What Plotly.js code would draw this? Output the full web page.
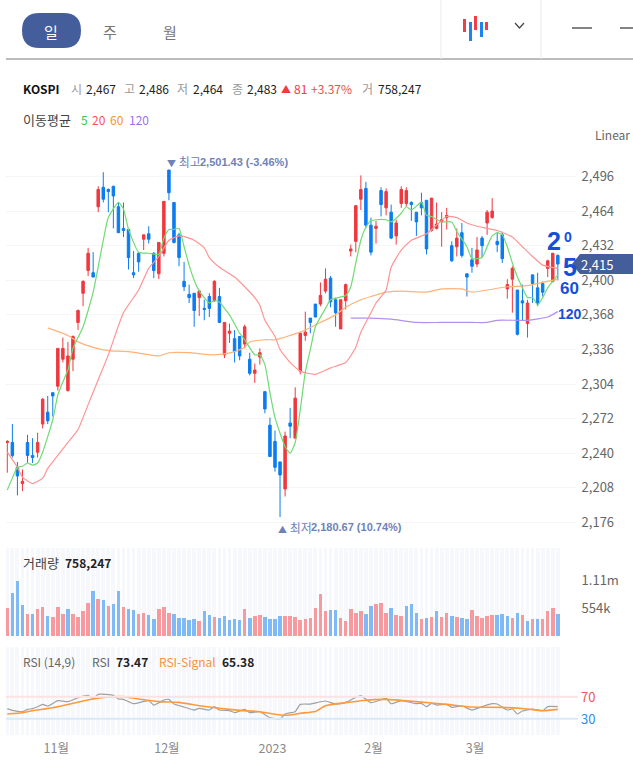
<!DOCTYPE html>
<html><head><meta charset="utf-8">
<script src="https://cdn.plot.ly/plotly-3.0.1.min.js"></script>
<style>html,body{margin:0;padding:0;background:#fff;overflow:hidden}#c{width:633px;height:766px}</style>
</head><body><div id="c"></div>
<script>
const open=[2250,2250,2227,2212,2250,2238,2241,2267,2278,2296,2302,2327,2298,2327,2361,2388,2409,2407,2468,2486,2484,2487,2468,2448,2447,2407,2425,2438,2443,2425,2406,2425,2502,2472,2442,2399,2387,2388,2384,2374,2385,2381,2385,2331,2351,2346,2348,2341,2327,2314,2329,2297,2266,2251,2232,2207,2268,2254,2316,2349,2365,2378,2378,2390,2402,2382,2355,2381,2427,2436,2475,2485,2451,2448,2483,2467,2463,2441,2471,2471,2472,2463,2472,2474,2446,2448,2454,2458,2432,2431,2444,2406,2419,2415,2439,2453,2458,2436,2442,2392,2401,2391,2381,2360,2405,2393,2397,2411,2399,2423];
const high=[2252,2267,2232,2225,2257,2254,2259,2291,2293,2296,2337,2347,2343,2349,2373,2400,2430,2426,2487,2500,2485,2487,2472,2472,2447,2427,2426,2442,2450,2426,2435,2473,2502,2472,2444,2417,2396,2388,2391,2382,2388,2400,2393,2361,2360,2354,2348,2359,2333,2323,2337,2297,2273,2261,2232,2260,2282,2301,2352,2371,2365,2378,2398,2411,2404,2384,2382,2397,2433,2469,2497,2491,2458,2455,2486,2485,2470,2456,2487,2486,2473,2463,2481,2474,2476,2472,2463,2467,2436,2448,2453,2406,2430,2440,2441,2465,2476,2444,2445,2401,2413,2391,2396,2382,2405,2407,2399,2419,2425,2424];
const low=[2222,2236,2201,2205,2231,2231,2236,2263,2267,2274,2298,2324,2297,2316,2354,2376,2404,2403,2463,2472,2463,2448,2444,2440,2410,2402,2408,2428,2434,2402,2401,2422,2474,2434,2413,2390,2379,2357,2367,2363,2366,2380,2361,2328,2342,2324,2326,2337,2312,2305,2322,2277,2237,2223,2181,2200,2254,2254,2313,2344,2351,2366,2376,2388,2375,2357,2355,2373,2422,2426,2465,2448,2423,2434,2459,2460,2438,2433,2467,2468,2455,2441,2460,2424,2445,2447,2431,2447,2417,2422,2421,2385,2407,2412,2421,2442,2457,2426,2416,2383,2370,2349,2363,2347,2379,2376,2385,2403,2398,2400];
const close=[2251,2238,2219,2214,2238,2236,2250,2290,2270,2293,2337,2337,2330,2348,2372,2399,2425,2403,2484,2475,2482,2478,2444,2446,2421,2405,2417,2442,2438,2409,2435,2473,2481,2435,2421,2394,2384,2372,2390,2373,2374,2399,2361,2361,2353,2334,2330,2357,2314,2317,2333,2281,2237,2227,2220,2256,2265,2291,2351,2352,2361,2366,2386,2401,2380,2370,2382,2396,2429,2469,2484,2451,2426,2450,2470,2482,2439,2453,2484,2483,2470,2454,2467,2429,2476,2452,2456,2460,2418,2439,2423,2403,2413,2428,2432,2463,2464,2433,2420,2396,2411,2350,2379,2379,2397,2379,2389,2418,2425,2415];
const volume=[560,867,1094,627,434,447,534,580,400,380,580,434,534,434,387,494,667,894,734,714,600,647,894,580,534,514,447,467,427,334,534,580,467,447,360,360,320,334,294,494,427,387,360,400,314,334,314,534,360,400,427,387,334,334,400,400,400,380,314,334,360,560,847,494,514,514,360,294,534,467,494,447,600,647,667,467,560,427,400,600,647,467,334,360,387,494,387,467,400,387,360,334,514,400,360,400,427,427,447,400,360,467,427,294,334,334,334,494,560,447];
const volumeUp=[1,0,0,0,1,0,1,1,0,1,1,1,0,1,1,1,1,0,1,0,1,0,0,1,0,0,1,1,0,0,1,1,1,0,0,0,0,0,1,0,0,1,0,0,0,0,0,1,0,1,1,0,0,0,0,1,1,1,1,1,1,1,1,1,0,0,1,1,1,1,1,0,0,1,1,1,0,1,1,0,0,0,1,0,1,0,1,1,0,1,0,0,1,1,1,1,1,0,0,0,1,0,1,0,1,0,1,1,1,0];

const ma5X=[0,1,2,3,4,5,6,7,9,10,11,12,13,15,17,19,20,22,23,24,26,28,30,31,32,33,34,35,36,37,38,39,40,41,42,43,44,46,47,49,50,51,52,53,55,56,57,58,59,60,61,63,64,67,68,69,70,71,72,73,75,76,78,79,80,82,83,84,86,88,89,91,92,94,95,96,97,98,99,100,101,102,103,104,105,106,107,109];
const ma5=[2206,2217,2227,2228,2231,2229,2231,2241,2271,2294,2306,2317,2337,2357,2389,2437,2458,2472,2466,2447,2426,2425,2424,2439,2447,2447,2448,2431,2414,2400,2390,2384,2379,2381,2380,2374,2368,2351,2345,2331,2331,2322,2296,2273,2246,2240,2250,2280,2315,2336,2357,2374,2382,2386,2394,2416,2437,2449,2455,2456,2456,2454,2462,2468,2465,2472,2460,2459,2454,2454,2445,2431,2420,2421,2431,2441,2444,2442,2431,2416,2403,2393,2384,2384,2377,2384,2393,2405];
const ma20X=[0,2,3,5,7,8,10,12,14,16,18,20,23,26,28,30,32,34,36,37,39,40,42,45,47,49,50,51,53,54,56,58,61,64,67,69,70,72,73,75,76,78,80,83,85,87,89,91,93,95,97,100,102,104,106,109];
const ma20=[2241,2227,2218,2212,2217,2226,2238,2250,2262,2285,2308,2331,2370,2391,2411,2422,2437,2441,2439,2437,2430,2421,2412,2403,2394,2384,2377,2363,2348,2336,2324,2316,2313,2319,2324,2338,2352,2370,2379,2391,2412,2428,2437,2443,2451,2459,2458,2453,2450,2448,2446,2440,2431,2422,2414,2411];
const ma60X=[8,12,14,17,20,24,27,30,32,36,40,43,45,47,48,51,53,56,58,59,62,65,67,70,72,75,78,83,86,90,92,95,99,103,106,109];
const ma60=[2356,2349,2343,2338,2335,2334,2332,2330,2333,2333,2331,2332,2334,2338,2343,2345,2345,2349,2352,2354,2361,2368,2375,2382,2385,2389,2390,2389,2392,2392,2389,2391,2394,2395,2398,2401];
const ma120X=[68,70,72,76,81,86,92,95,97,103,107,109];
const ma120=[2365,2365,2365,2364,2361,2361,2361,2361,2363,2363,2366,2371];

const rsiX=[0,1,3,4,5,6,7,8,10,12,14,16,17,18,21,22,23,25,28,29,31,32,33,35,37,38,40,41,42,44,45,47,48,50,52,54,55,57,58,60,63,65,67,69,70,72,75,76,78,81,82,83,84,85,87,88,90,92,94,96,97,99,100,101,102,104,106,107,109];
const rsi=[48.3,45.2,42.8,47,48.3,51.9,56.1,53.1,62.8,61,68.3,72.5,67,74.3,72.5,65.8,65.2,57.3,62.8,54.9,64,65.2,56.7,51.3,45.8,48.9,45.8,51.9,45.8,44.6,41,47,41,42.8,31.9,29.5,38.6,42.8,56.1,56.7,62.2,56.7,59.8,68.9,71.9,59.2,67,57.3,62.8,57.3,58,51.9,58,54.9,56.1,50.7,53.1,45.8,51.9,57.3,56.7,45.8,47.6,38.6,44,47.6,44.6,51.9,51.9];
const signalX=[0,3,5,9,13,17,20,23,26,30,34,38,42,46,50,54,56,58,61,63,67,70,75,81,87,92,98,103,106,109];
const signal=[38.6,41,44.6,50.1,58,65.8,69.5,70.1,65.8,61,59.8,53.7,48.9,45.2,42.8,36.7,36.7,39.8,43,53.7,59.2,62.8,65.2,61,56.1,51.3,50.7,47.6,44.6,47];

const priceTicks=[2176,2208,2240,2272,2304,2336,2368,2400,2432,2464,2496];
const volumeTickVals=[554,1110];
const volumeTickText=['554k','1.11m'];
const monthTickVals=[9.7,31.6,52.5,72.5,92.6];
const monthTickText=['11월','12월','2023','2월','3월'];

const W=633,H=766;
const px=x=>x/W, py=y=>1-y/H;
const FONT='"Noto Sans CJK KR","Noto Sans",sans-serif';
const RED='#f0383f', BLUE='#0b7cf0';
const idx=open.map((_,i)=>i);
const VOL_TOP=1760, RSI_MIN=0.4, RSI_MAX=160.4;

const line=(x,y,color,width,yaxis)=>({type:'scatter',mode:'lines',x,y,yaxis:yaxis||'y',hoverinfo:'skip',
  line:{color,width,shape:'spline',smoothing:0.5},showlegend:false});

const traces=[
 {type:'bar',x:idx,y:idx.map(()=>VOL_TOP),yaxis:'y2',width:0.76,marker:{color:'#f6f8fc',line:{width:0}},hoverinfo:'skip',showlegend:false},
 {type:'bar',x:idx,y:volume,yaxis:'y2',width:0.7,marker:{color:volumeUp.map(u=>u?'#f69a9f':'#7fbaf6'),line:{width:0}},hoverinfo:'skip',showlegend:false},
 {type:'bar',x:idx,y:idx.map(()=>RSI_MAX-RSI_MIN),base:RSI_MIN,yaxis:'y3',width:0.76,marker:{color:'#f6f8fc',line:{width:0}},hoverinfo:'skip',showlegend:false},
 {type:'candlestick',x:idx,open,high,low,close,yaxis:'y',hoverinfo:'skip',showlegend:false,whiskerwidth:0,
  increasing:{line:{color:RED,width:1},fillcolor:RED},decreasing:{line:{color:BLUE,width:1},fillcolor:BLUE}},
 line(ma120X,ma120,'#b48ef2',1.2),
 line(ma60X,ma60,'#ffb27a',1.2),
 line(ma20X,ma20,'#ff9494',1.2),
 line(ma5X,ma5,'#6fdb73',1.2),
 line(rsiX,rsi,'#a0a0a0',1.2,'y3'),
 line(signalX,signal,'#ff9a3c',1.6,'y3')
];

const txt=(x,y,text,size,color,extra)=>Object.assign({xref:'paper',yref:'paper',x:px(x),y:py(y),text,showarrow:false,xanchor:'left',yanchor:'middle',
  font:{family:FONT,size,color},borderpad:0},extra||{});
const B=s=>'<b>'+s+'</b>';
const HAND='"Liberation Sans"', INK='#1550d8';
const hand=(x,y,text,size)=>txt(x,y,B(text),size,INK,{font:{family:HAND,size,color:INK}});
const MARK_FONT={family:FONT,size:12,color:'#6f82b8'};
const VALUE_FONT={family:HAND,size:11,color:'#6f82b8'};

const annotations=[
 txt(51,31,'일',15,'#ffffff',{xanchor:'center'}),
 txt(110,31,'주',15,'#777777',{xanchor:'center'}),
 txt(170,31,'월',15,'#777777',{xanchor:'center'}),
 txt(22,89,B('KOSPI'),12,'#111111'),
 txt(70,89,'시',12,'#999999'),txt(85,89,'2,467',12,'#222222'),
 txt(123,89,'고',12,'#999999'),txt(138,89,'2,486',12,'#222222'),
 txt(176,89,'저',12,'#999999'),txt(192,89,'2,464',12,'#222222'),
 txt(231,89,'종',12,'#999999'),txt(246,89,'2,483',12,'#222222'),
 txt(280,89,'▲',10,'#ee3b3b'),txt(293,89,'81',12,'#ee3b3b'),txt(310,89,'+3.37%',12,'#f24c4c'),
 txt(361,89,'거',12,'#999999'),txt(377,89,'758,247',12,'#222222'),
 txt(22,119,'이동평균',13,'#444444'),
 txt(80,119,'5',12,'#3cc43c'),txt(91,119,'20',12,'#f2555a'),txt(109,119,'60',12,'#f9913c'),txt(128,119,'120',12,'#a06cf0'),
 txt(594,134,'Linear',12,'#666666'),
 {xref:'x',yref:'y',x:32,y:2502,yshift:8,xshift:-4,xanchor:'left',yanchor:'middle',showarrow:false,
  text:'<span style="font-size:9px">▼</span> 최고',font:MARK_FONT},
 {xref:'x',yref:'y',x:32,y:2502,yshift:8,xshift:29,xanchor:'left',yanchor:'middle',showarrow:false,
  text:B('2,501.43 (-3.46%)'),font:VALUE_FONT},
 {xref:'x',yref:'y',x:54,y:2181,yshift:-10,xshift:-4,xanchor:'left',yanchor:'middle',showarrow:false,
  text:'<span style="font-size:9px">▲</span> 최저',font:MARK_FONT},
 {xref:'x',yref:'y',x:54,y:2181,yshift:-10,xshift:29,xanchor:'left',yanchor:'middle',showarrow:false,
  text:B('2,180.67 (10.74%)'),font:VALUE_FONT},
 {xref:'paper',yref:'y',x:px(579),y:2415,xanchor:'left',yanchor:'middle',showarrow:false,text:'2,415',font:{family:FONT,size:13,color:'#ffffff'}},
 txt(22,562,'거래량',13,'#444444'),txt(64,562,B('758,247'),12,'#222222'),
 txt(22,661,'RSI (14,9)',12,'#666666'),txt(91,661,'RSI',12,'#666666'),txt(115,661,B('73.47'),12,'#222222'),
 txt(158,661,'RSI-Signal',12,'#f9913c'),txt(221,661,B('65.38'),12,'#222222'),
 {xref:'paper',yref:'y3',x:px(579),y:70,xanchor:'left',yanchor:'middle',showarrow:false,text:'70',font:{family:FONT,size:13,color:'#e85a5a'}},
 {xref:'paper',yref:'y3',x:px(579),y:30,xanchor:'left',yanchor:'middle',showarrow:false,text:'30',font:{family:FONT,size:13,color:'#2f8eea'}},
 hand(546,241,'2',25),
 hand(563,237,'0',14),
 hand(562,267,'5',25),
 hand(559,288,'60',17),
 hand(557,314,'120',14)
];

const rect=(x0,y0,x1,y1,color)=>({type:'rect',xref:'paper',yref:'paper',x0:px(x0),x1:px(x1),y0:py(y0),y1:py(y1),fillcolor:color,line:{width:0},layer:'above'});
const seg=(x0,y0,x1,y1,color,w)=>({type:'line',xref:'paper',yref:'paper',x0:px(x0),x1:px(x1),y0:py(y0),y1:py(y1),line:{color,width:w||1}});
const poly=(pts,color,layer)=>({type:'path',xref:'paper',yref:'paper',path:pts,fillcolor:color,line:{width:0},layer:layer||'above'});
const P=(x,y)=>px(x).toFixed(5)+','+py(y).toFixed(5);
const pill='M'+P(39.5,13)+' L'+P(63.5,13)+' Q'+P(81,13)+' '+P(81,30.5)+' Q'+P(81,48)+' '+P(63.5,48)+' L'+P(39.5,48)+' Q'+P(22,48)+' '+P(22,30.5)+' Q'+P(22,13)+' '+P(39.5,13)+' Z';
const tag='M'+P(572,264)+' L'+P(580,254)+' L'+P(633,254)+' L'+P(633,274)+' L'+P(580,274)+' Z';

const shapes=[
 poly(pill,'#445e9b','below'),
 poly(tag,'#445e9b','above'),
 seg(6,59,633,59,'#77797d',1),
 seg(441,0,441,59,'#e9ebf0',1),seg(541,0,541,59,'#e9ebf0',1),
 rect(463,19,466,32,'#ee4048'),rect(469,22,472,41,'#1c86f0'),rect(474,16,477,30,'#ee4048'),rect(480,22,483,37,'#1c86f0'),rect(485,22,488,30,'#ee4048'),
 {type:'path',xref:'paper',yref:'paper',path:'M'+P(515,23)+' L'+P(519.5,28)+' L'+P(524,23),line:{color:'#444444',width:1.2}},
 seg(572,28,592,28,'#333333',1.2),seg(620,28,633,28,'#333333',1.2),
 {type:'line',xref:'paper',yref:'y3',x0:px(6),x1:px(578),y0:70,y1:70,line:{color:'#fbe2e3',width:2},layer:'above'},
 {type:'line',xref:'paper',yref:'y3',x0:px(6),x1:px(578),y0:30,y1:30,line:{color:'#d9e9fa',width:2},layer:'above'}
];

const layout={
 width:W,height:H,margin:{l:0,r:0,t:0,b:0,pad:0},paper_bgcolor:'#ffffff',plot_bgcolor:'rgba(0,0,0,0)',
 showlegend:false,barmode:'overlay',bargap:0,dragmode:false,hovermode:false,
 font:{family:FONT,size:13,color:'#666666'},
 xaxis:{domain:[px(6),px(576)],range:[-0.26,112.6],anchor:'y3',showgrid:false,zeroline:false,showline:false,
   tickmode:'array',tickvals:monthTickVals,ticktext:monthTickText,ticks:'outside',ticklen:2,tickcolor:'rgba(0,0,0,0)',
   tickfont:{family:FONT,size:12.5,color:'#8a8a8a'},rangeslider:{visible:false}},
 yaxis:{domain:[py(535),py(150)],range:[2164.4,2520.5],side:'right',anchor:'x',tickmode:'array',tickvals:priceTicks,
   tickformat:',d',showgrid:true,gridcolor:'#f5f5f5',gridwidth:1,zeroline:false,showline:false,ticks:'outside',ticklen:2,tickcolor:'rgba(0,0,0,0)',
   tickfont:{family:FONT,size:13,color:'#666666'}},
 yaxis2:{domain:[py(636),py(548)],range:[0,VOL_TOP],side:'right',anchor:'x',tickmode:'array',tickvals:volumeTickVals,ticktext:volumeTickText,
   showgrid:false,zeroline:false,showline:false,ticks:'outside',ticklen:2,tickcolor:'rgba(0,0,0,0)',tickfont:{family:FONT,size:13,color:'#666666'}},
 yaxis3:{domain:[py(735),py(647)],range:[RSI_MIN,RSI_MAX],side:'right',anchor:'x',showticklabels:false,showgrid:false,zeroline:false,showline:false,ticks:''},
 annotations,shapes
};
Plotly.newPlot('c',traces,layout,{staticPlot:true,displayModeBar:false});
</script></body></html>
